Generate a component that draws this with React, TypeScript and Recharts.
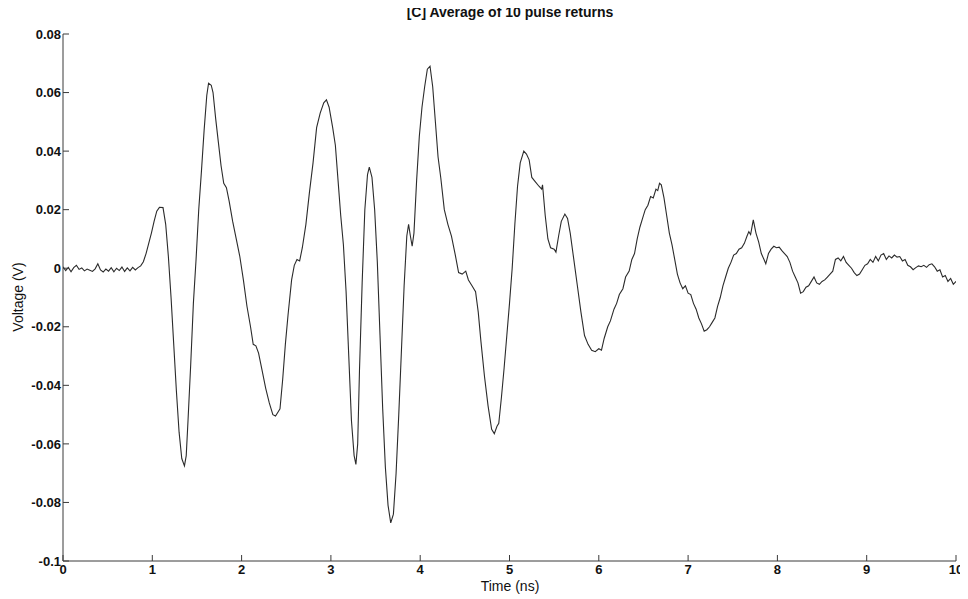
import React from 'react';
import { LineChart, Line, XAxis, YAxis } from 'recharts';

const timeNs: number[] = [
  0.00, 0.03, 0.06, 0.09, 0.12, 0.15, 0.18, 0.21, 0.24, 0.27, 0.30, 0.33, 0.36, 0.39, 0.42, 0.45, 0.48, 0.51, 0.54, 0.57,
  0.60, 0.63, 0.66, 0.69, 0.72, 0.75, 0.78, 0.81, 0.84, 0.87, 0.90, 0.93, 0.96, 0.99, 1.02, 1.05, 1.08, 1.12, 1.15, 1.18,
  1.21, 1.24, 1.27, 1.30, 1.33, 1.36, 1.38, 1.40, 1.43, 1.46, 1.49, 1.52, 1.55, 1.58, 1.61, 1.63, 1.66, 1.68, 1.71, 1.74,
  1.77, 1.80, 1.83, 1.86, 1.90, 1.94, 1.98, 2.02, 2.06, 2.10, 2.13, 2.16, 2.19, 2.23, 2.27, 2.31, 2.35, 2.38, 2.41, 2.43,
  2.46, 2.49, 2.52, 2.56, 2.59, 2.62, 2.65, 2.68, 2.72, 2.76, 2.80, 2.84, 2.88, 2.92, 2.95, 2.98, 3.02, 3.05, 3.08, 3.11,
  3.14, 3.17, 3.20, 3.23, 3.26, 3.28, 3.30, 3.32, 3.35, 3.38, 3.41, 3.43, 3.46, 3.49, 3.52, 3.55, 3.58, 3.61, 3.64, 3.67,
  3.70, 3.73, 3.76, 3.79, 3.82, 3.85, 3.87, 3.89, 3.91, 3.93, 3.96, 3.99, 4.02, 4.05, 4.08, 4.11, 4.14, 4.17, 4.20, 4.23,
  4.27, 4.31, 4.35, 4.39, 4.43, 4.47, 4.51, 4.54, 4.58, 4.62, 4.65, 4.68, 4.72, 4.76, 4.80, 4.83, 4.86, 4.88, 4.91, 4.94,
  4.97, 5.00, 5.03, 5.06, 5.09, 5.12, 5.16, 5.19, 5.22, 5.25, 5.29, 5.33, 5.36, 5.37, 5.40, 5.43, 5.46, 5.50, 5.52, 5.55,
  5.58, 5.62, 5.65, 5.68, 5.72, 5.76, 5.80, 5.84, 5.88, 5.92, 5.96, 6.00, 6.03, 6.06, 6.10, 6.13, 6.17, 6.20, 6.23, 6.27,
  6.30, 6.34, 6.37, 6.40, 6.43, 6.46, 6.49, 6.52, 6.55, 6.58, 6.61, 6.64, 6.66, 6.68, 6.70, 6.73, 6.76, 6.79, 6.82, 6.85,
  6.88, 6.91, 6.94, 6.97, 7.00, 7.03, 7.06, 7.09, 7.12, 7.15, 7.18, 7.21, 7.24, 7.27, 7.30, 7.33, 7.36, 7.39, 7.42, 7.45,
  7.48, 7.51, 7.54, 7.57, 7.60, 7.63, 7.66, 7.68, 7.70, 7.73, 7.76, 7.79, 7.82, 7.85, 7.87, 7.90, 7.93, 7.96, 7.99, 8.02,
  8.05, 8.08, 8.11, 8.14, 8.17, 8.20, 8.23, 8.26, 8.29, 8.32, 8.35, 8.38, 8.41, 8.44, 8.47, 8.50, 8.53, 8.56, 8.59, 8.62,
  8.65, 8.68, 8.71, 8.74, 8.77, 8.80, 8.83, 8.86, 8.89, 8.92, 8.95, 8.98, 9.01, 9.04, 9.07, 9.10, 9.13, 9.16, 9.19, 9.22,
  9.25, 9.28, 9.31, 9.34, 9.37, 9.40, 9.43, 9.46, 9.49, 9.52, 9.55, 9.58, 9.61, 9.64, 9.67, 9.70, 9.73, 9.76, 9.79, 9.82,
  9.85, 9.88, 9.91, 9.94, 9.97, 10.00,
];

const voltage: number[] = [
  0.0005, -0.0008, 0.0003, -0.0012, 0.0002, 0.0010, -0.0004, 0.0001, -0.0009, -0.0003, -0.0007, -0.0011, -0.0002, 0.0015, -0.0006, -0.0013, -0.0003, -0.0010, 0.0002, -0.0012,
  0.0000, -0.0008, 0.0004, -0.0011, 0.0001, -0.0009, 0.0003, -0.0006, 0.0002, 0.0008, 0.0022, 0.0050, 0.0085, 0.0120, 0.0160, 0.0195, 0.0208, 0.0207, 0.0150, 0.0040,
  -0.0100, -0.0260, -0.0420, -0.0560, -0.0650, -0.0675, -0.0640, -0.0520, -0.0330, -0.0120, 0.0030, 0.0200, 0.0330, 0.0470, 0.0590, 0.0632, 0.0625, 0.0600, 0.0510, 0.0430,
  0.0350, 0.0290, 0.0275, 0.0230, 0.0160, 0.0100, 0.0040, -0.0040, -0.0130, -0.0200, -0.0260, -0.0265, -0.0290, -0.0350, -0.0410, -0.0460, -0.0500, -0.0505, -0.0490, -0.0480,
  -0.0380, -0.0260, -0.0160, -0.0040, 0.0010, 0.0030, 0.0025, 0.0070, 0.0150, 0.0260, 0.0360, 0.0480, 0.0530, 0.0565, 0.0575, 0.0550, 0.0480, 0.0420, 0.0300, 0.0180,
  0.0080, -0.0080, -0.0300, -0.0520, -0.0640, -0.0670, -0.0600, -0.0350, -0.0050, 0.0200, 0.0320, 0.0345, 0.0310, 0.0200, 0.0020, -0.0230, -0.0480, -0.0680, -0.0810, -0.0870,
  -0.0840, -0.0700, -0.0500, -0.0280, -0.0060, 0.0110, 0.0150, 0.0110, 0.0075, 0.0120, 0.0300, 0.0450, 0.0550, 0.0620, 0.0680, 0.0690, 0.0620, 0.0500, 0.0380, 0.0310,
  0.0200, 0.0150, 0.0110, 0.0050, -0.0015, -0.0020, -0.0010, -0.0040, -0.0060, -0.0080, -0.0150, -0.0250, -0.0370, -0.0470, -0.0550, -0.0565, -0.0540, -0.0530, -0.0440, -0.0340,
  -0.0230, -0.0120, 0.0000, 0.0150, 0.0280, 0.0360, 0.0400, 0.0390, 0.0370, 0.0310, 0.0295, 0.0280, 0.0270, 0.0285, 0.0180, 0.0100, 0.0070, 0.0065, 0.0055, 0.0110,
  0.0160, 0.0185, 0.0170, 0.0120, 0.0030, -0.0060, -0.0150, -0.0230, -0.0260, -0.0280, -0.0285, -0.0275, -0.0280, -0.0240, -0.0200, -0.0180, -0.0140, -0.0120, -0.0090, -0.0070,
  -0.0030, -0.0010, 0.0030, 0.0050, 0.0100, 0.0140, 0.0170, 0.0200, 0.0215, 0.0245, 0.0240, 0.0270, 0.0265, 0.0290, 0.0285, 0.0240, 0.0180, 0.0120, 0.0080, 0.0030,
  -0.0020, -0.0050, -0.0070, -0.0060, -0.0085, -0.0090, -0.0120, -0.0140, -0.0170, -0.0190, -0.0215, -0.0210, -0.0200, -0.0185, -0.0170, -0.0130, -0.0100, -0.0060, -0.0030, 0.0000,
  0.0020, 0.0045, 0.0050, 0.0065, 0.0070, 0.0085, 0.0110, 0.0125, 0.0115, 0.0165, 0.0120, 0.0090, 0.0050, 0.0030, 0.0015, 0.0050, 0.0065, 0.0075, 0.0070, 0.0072,
  0.0060, 0.0050, 0.0040, 0.0020, -0.0010, -0.0030, -0.0050, -0.0085, -0.0080, -0.0065, -0.0060, -0.0045, -0.0030, -0.0050, -0.0055, -0.0045, -0.0040, -0.0030, -0.0020, -0.0010,
  0.0030, 0.0035, 0.0025, 0.0040, 0.0020, 0.0010, 0.0000, -0.0015, -0.0025, -0.0020, -0.0005, 0.0010, 0.0015, 0.0030, 0.0020, 0.0040, 0.0025, 0.0045, 0.0050, 0.0030,
  0.0042, 0.0035, 0.0045, 0.0038, 0.0040, 0.0025, 0.0030, 0.0010, 0.0005, -0.0005, 0.0002, 0.0008, 0.0005, 0.0010, 0.0003, 0.0012, 0.0015, 0.0005, -0.0010, -0.0005,
  -0.0030, -0.0025, -0.0045, -0.0035, -0.0055, -0.0045,
];

const xTicks: number[] = [0, 1, 2, 3, 4, 5, 6, 7, 8, 9, 10];
const yTicks: number[] = [-0.1, -0.08, -0.06, -0.04, -0.02, 0, 0.02, 0.04, 0.06, 0.08];

const title = '[C] Average of 10 pulse returns';
const xLabel = 'Time (ns)';
const yLabel = 'Voltage (V)';

const data = timeNs.map((t, i) => ({ t, v: voltage[i] }));

const FONT = '"Liberation Sans", Arial, sans-serif';
const axisColor = '#3a3a3a';
const tickStyle = { fontFamily: FONT, fontSize: 13, fontWeight: 700, fill: '#111' };

const fmtY = (v: number) => String(Math.round(v * 100) / 100);

export default function App() {
  return (
    <div style={{ position: 'relative', width: 960, height: 591, fontFamily: FONT }}>
      <LineChart
        width={960}
        height={591}
        data={data}
        margin={{ top: 26, right: 12, bottom: 0, left: 0 }}
      >
        <XAxis
          xAxisId="bottom"
          dataKey="t"
          type="number"
          domain={[0, 10]}
          ticks={xTicks}
          orientation="bottom"
          height={38}
          tickSize={-6}
          tickMargin={10}
          stroke={axisColor}
          tick={tickStyle}
          allowDataOverflow
        />
        <XAxis
          xAxisId="top"
          dataKey="t"
          type="number"
          domain={[0, 10]}
          ticks={xTicks}
          orientation="top"
          height={0}
          tickSize={-6}
          stroke={axisColor}
          tick={false}
          allowDataOverflow
        />
        <YAxis
          yAxisId="left"
          type="number"
          domain={[-0.1, 0.08]}
          ticks={yTicks}
          orientation="left"
          width={55}
          tickSize={-6}
          tickMargin={8}
          stroke={axisColor}
          tick={tickStyle}
          tickFormatter={fmtY}
          allowDataOverflow
        />
        <YAxis
          yAxisId="right"
          type="number"
          domain={[-0.1, 0.08]}
          ticks={yTicks}
          orientation="right"
          width={0}
          tickSize={-6}
          stroke={axisColor}
          tick={false}
          allowDataOverflow
        />
        <Line
          xAxisId="bottom"
          yAxisId="left"
          type="linear"
          dataKey="v"
          stroke="#2b2b2b"
          strokeWidth={1.1}
          dot={false}
          activeDot={false}
          isAnimationActive={false}
        />
      </LineChart>
      <div
        style={{
          position: 'absolute',
          left: 252,
          top: -4,
          width: 500,
          textAlign: 'center',
          fontSize: 14,
          fontWeight: 700,
          lineHeight: '16px',
          color: '#111',
        }}
      >
        {title}
      </div>
      <div
        style={{
          position: 'absolute',
          left: 252,
          top: 571,
          width: 500,
          textAlign: 'center',
          fontSize: 14,
          lineHeight: '15px',
          color: '#111',
        }}
      >
        {xLabel}
      </div>
      <div
        style={{
          position: 'absolute',
          left: -50,
          top: 281,
          width: 120,
          height: 16,
          textAlign: 'center',
          fontSize: 14,
          lineHeight: '16px',
          color: '#111',
          transform: 'rotate(-90deg)',
        }}
      >
        {yLabel}
      </div>
    </div>
  );
}
